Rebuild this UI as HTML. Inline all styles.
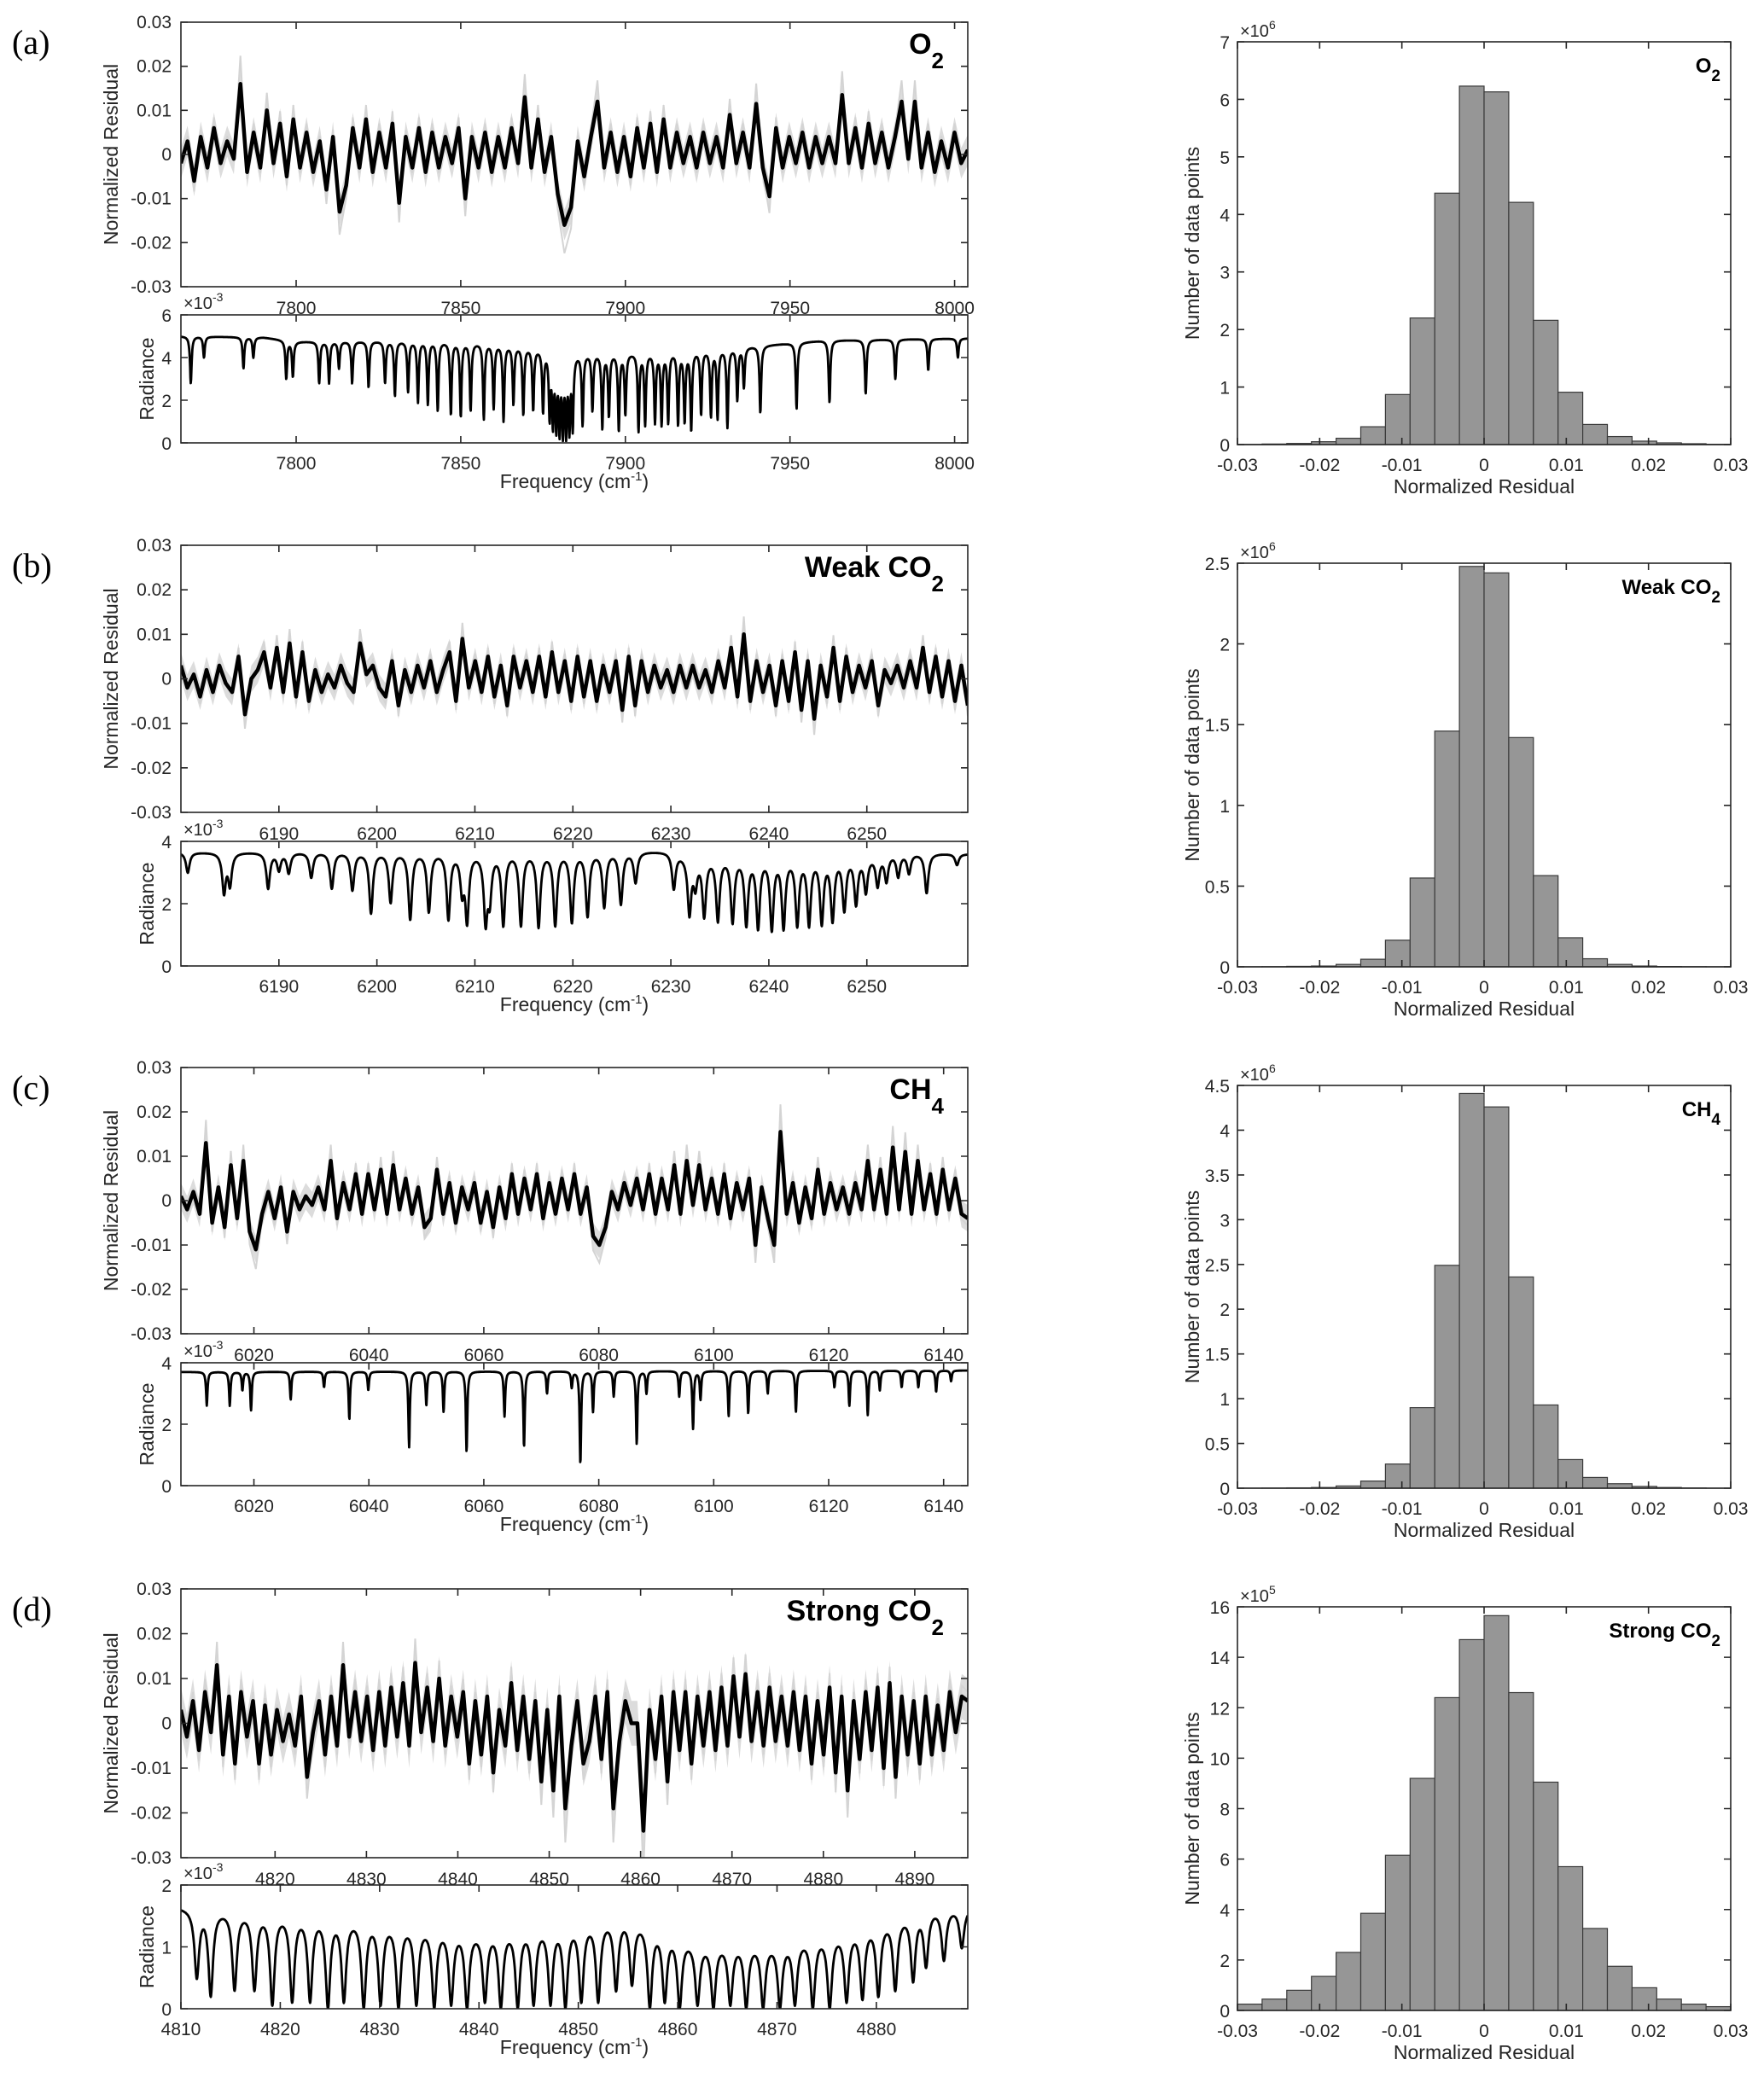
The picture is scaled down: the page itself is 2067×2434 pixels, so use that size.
<!DOCTYPE html>
<html><head><meta charset="utf-8">
<style>
html,body{margin:0;padding:0;background:#fff;}
svg{display:block;}
text{font-family:"Liberation Sans",Arial,sans-serif;fill:#262626;}
</style></head>
<body>
<svg id="fig" xmlns="http://www.w3.org/2000/svg" width="2067" height="2434" viewBox="0 0 2067 2434">
<defs id="defs"></defs>
</svg>
<script>
// ---------------- DATA ----------------
const panelLabels = ["(a)","(b)","(c)","(d)"];
const speciesMain = ["O","Weak CO","CH","Strong CO"];
const speciesSub = ["2","2","4","2"];
const residRange = [[7765,8004],[6180,6260.3],[6007.3,6144.2],[4809.7,4895.8]];
const radRange = [[7765,8004],[6180,6260.3],[6007.3,6144.2],[4810,4889.2]];
const topTicks = [[7800,7850,7900,7950,8000],[6190,6200,6210,6220,6230,6240,6250],[6020,6040,6060,6080,6100,6120,6140],[4820,4830,4840,4850,4860,4870,4880,4890]];
const botTicks = [[7800,7850,7900,7950,8000],[6190,6200,6210,6220,6230,6240,6250],[6020,6040,6060,6080,6100,6120,6140],[4810,4820,4830,4840,4850,4860,4870,4880]];
const residTicks = [0.03,0.02,0.01,0,-0.01,-0.02,-0.03];
const residTickLabels = ["0.03","0.02","0.01","0","-0.01","-0.02","-0.03"];
const radMax = [6,4,4,2];
const radTickSets = [[0,2,4,6],[0,2,4],[0,2,4],[0,1,2]];
const bandHalf = [3.5,3,3,5];

// residuals (x1e-3), evenly spaced over the residual range
const resid_a = [-2,3,-6,4,-3,6,-2,3,-1,16,-4,5,-3,10,-2,7,-5,8,-3,5,-4,3,-8,4,-13,-7,6,-3,8,-4,5,-3,7,-11,4,-3,6,-4,5,-3,4,-2,6,-10,4,-3,5,-4,4,-3,6,-2,13,-3,8,-4,4,-9,-16,-12,3,-5,4,12,-3,5,-4,4,-5,6,-3,7,-4,8,-3,5,-2,4,-3,5,-2,4,-3,9,-2,5,-3,11.5,-3,-9.5,6,-3,4,-2,5,-3,4,-2,4,-2,13.5,-2,6,-3,7,-2,5,-3,4,12,-1,12,-3,5,-4,3,-3,5,-2,1];
const resid_b = [3,-2,1,-4,2,-3,3,-1,-3,5,-8,0,2,6,-2,7,-3,8,-4,6,-5,2,-3,1,-2,3,-1,-3,8,1,3,-2,-4,4,-6,2,-3,3,-2,4,-3,2,6,-5,9,-2,4,-3,5,-4,3,-6,5,-2,4,-3,5,-4,6,-3,4,-5,5,-4,4,-5,3,-3,4,-7,5,-6,4,-3,3,-2,2,-3,3,-2,3,-2,2,-3,4,-2,7,-4,10,-5,4,-3,3,-6,4,-5,6,-7,4,-9,3,-4,7,-5,5,-3,3,-2,4,-6,2,-1,3,-2,4,-2,7,-3,5,-4,4,-5,3,-6];
const resid_c = [1,-2,2,-3,13,-5,3,-6,8,-4,9,-7,-11,-3,2,-4,3,-7,2,-2,1,-1,3,-2,9,-4,4,-2,6,-3,6,-2,7,-3,8,-2,5,-3,3,-6,-4,7,-3,4,-5,3,-2,4,-5,2,-6,3,-4,6,-3,5,-2,6,-4,4,-3,5,-2,6,-3,3,-8,-10,-6,2,-2,4,-1,5,-2,6,-3,5,-2,8,-3,9,-1,8,-2,5,-3,6,-4,4,-2,5,-10,3,-4,-10,15.5,-3,4,-5,3,-4,7,-3,4,-2,3,-3,4,-2,9,-2,7,-3,12,-2,11,-3,9,-2,6,-3,7,-2,5,-3,-4];
const resid_d = [3,-3,5,-6,7,-2,13,-7,6,-9,7,-3,5,-9,4,-7,3,-4,2,-5,6,-12,-2,5,-7,6,-5,13,-3,7,-4,6,-6,7,-5,8,-3,9,-5,13.5,-2,8,-4,10,-5,6,-3,7,-9,5,-7,6,-11,3,-5,9,-6,6,-8,5,-13,3,-15,6,-19,-5,5,-9,-4,6,-8,7,-19,-4,5,0,0,-24,3,-8,6,-13,7,-6,7,-9,6,-5,7,-6,8,-5,10.5,-3,11,-4,7,-5,8,-4,6,-5,7,-6,6,-9,5,-7,8,-11,6,-15,5,-8,7,-6,8,-10,9,-12,6,-7,5,-9,6,-7,4,-6,7,-2,6,5];
const residSeries = [resid_a,resid_b,resid_c,resid_d];

// radiance continuum (freq, x1e-3)
const cont_a_f = [7765,7790,7800,7840,7860,7872,7886,7900,7920,7940,7960,7980,8004];
const cont_a_v = [5.0,4.95,4.75,4.8,4.7,4.5,4.25,4.25,4.35,4.55,4.8,4.85,4.9];
const cont_b_f = [6180,6230,6232,6250,6253,6260.3];
const cont_b_v = [3.65,3.7,3.55,3.55,3.65,3.6];
const cont_c_f = [6007.3,6144.2];
const cont_c_v = [3.7,3.75];
const cont_d_f = [4810,4825,4840,4850,4855,4862,4870,4877,4885,4889.2];
const cont_d_v = [1.65,1.55,1.3,1.45,1.55,1.1,1.1,1.3,1.65,1.65];
const contF = [cont_a_f,cont_b_f,cont_c_f,cont_d_f];
const contV = [cont_a_v,cont_b_v,cont_c_v,cont_d_v];

// absorption line centers and minimum radiance (x1e-3)
const lines_a_c = [7768,7772,7784,7787,7797,7799,7807,7810,7813,7817,7822,7827,7830,7834,7837,7840,7843,7847,7850,7853,7857,7860,7863,7866,7869,7872,7875,7877,7878,7879,7880,7881,7882,7883,7884,7887,7890,7893,7895,7898,7900,7904,7906,7909,7911,7913,7916,7918,7920,7923,7926,7928,7931,7934,7936,7941,7952,7962,7973,7982,7992,8001];
const lines_a_m = [2.8,4,3.5,4,3,3.1,2.8,2.8,3.5,2.8,2.6,2.8,2.2,2.4,1.9,1.8,1.5,1.3,1.2,1.5,1.1,1.6,1.0,1.8,1.3,1.5,1.4,1.0,0.6,0.4,0.2,0.1,0.1,0.3,0.5,0.8,1.5,0.6,1.2,0.5,1.3,0.5,0.8,0.9,0.8,0.9,0.8,0.9,0.5,1.3,1.2,1.1,0.7,2.0,2.6,1.4,1.6,1.9,2.3,3.0,3.4,4.0];
const lines_b_c = [6180.7,6184.4,6185,6188.9,6190,6191,6193.3,6195.4,6197.5,6199.4,6201.4,6203.4,6205.3,6207.3,6208.7,6209.2,6211.1,6211.5,6212.9,6214.7,6216.5,6218.2,6219.9,6221.5,6223.2,6224.9,6226.4,6230.3,6231.9,6232.5,6233.4,6234.8,6236.3,6237.7,6238.9,6240.3,6241.5,6242.9,6244.1,6245.4,6246.5,6247.7,6248.9,6249.9,6251.1,6252,6253.2,6254.3,6256.1,6259.2];
const lines_b_m = [3.0,2.35,2.6,2.5,3.1,3.0,2.85,2.5,2.45,1.7,2.05,1.5,1.75,1.5,2.4,1.4,1.35,2.1,1.3,1.3,1.25,1.3,1.4,1.6,1.9,2.0,2.7,2.5,1.65,2.6,1.6,1.45,1.4,1.3,1.2,1.15,1.2,1.3,1.3,1.35,1.45,1.8,2.0,2.4,2.6,2.75,2.9,3.0,2.35,3.25];
const lines_c_c = [6011.8,6015.8,6018,6019.5,6026.4,6032.2,6036.6,6039.9,6047,6050,6053,6057,6063.6,6067,6071,6075.3,6076.8,6079,6082.6,6086.6,6088.3,6094,6096.4,6097.7,6102.6,6106,6109.4,6114.3,6121,6123.6,6126.8,6128.9,6132.7,6135.6,6138.7,6141.3];
const lines_c_m = [2.6,2.6,3.1,2.45,2.8,3.2,2.15,3.1,1.25,2.6,2.4,1.1,2.25,1.25,3.0,3.2,0.7,2.4,2.9,1.35,3.0,2.9,1.85,2.8,2.25,2.35,3.0,2.4,3.2,2.6,2.3,3.1,3.2,3.2,3.05,3.4];
const lines_d_c = [4811.6,4813,4815.4,4817.4,4819.2,4821.2,4823,4824.8,4826.4,4828.4,4830.1,4831.9,4833.7,4835.5,4837.2,4838.8,4840.6,4842.2,4843.9,4845.5,4847.2,4848.7,4850.3,4852,4853.8,4855.4,4857.2,4858.7,4860.2,4862,4863.6,4865.3,4866.9,4868.6,4870.3,4871.8,4873.6,4875.3,4877,4878.6,4880.2,4881.9,4883.7,4885,4886.8,4888.6];
const lines_d_m = [0.5,0.2,0.3,0.3,0.05,0.1,0.1,0,0.1,0,0.05,0,0.05,0,0.05,0,0.1,0,0,0.05,0.05,0,0.1,0.1,0.3,0.4,0,0.1,0,0.05,0,0.05,0,0,0,0.05,0,0,0.1,0.15,0.2,0.3,0.45,0.7,0.8,1.0];
const lineC = [lines_a_c,lines_b_c,lines_c_c,lines_d_c];
const lineM = [lines_a_m,lines_b_m,lines_c_m,lines_d_m];
const lineHalfWidth = [0.3,0.22,0.15,0.28];

// histograms: 20 bins from -0.03 to 0.03
const binEdgesStart = -0.03, binWidth = 0.003;
const hist_a = [0.003,0.01,0.02,0.05,0.11,0.31,0.87,2.2,4.37,6.23,6.13,4.21,2.16,0.91,0.35,0.14,0.06,0.03,0.015,0.005];
const hist_b = [0.0005,0.001,0.003,0.005,0.015,0.047,0.165,0.55,1.46,2.48,2.44,1.42,0.565,0.18,0.05,0.015,0.005,0.002,0.001,0.0005];
const hist_c = [0.001,0.002,0.004,0.008,0.025,0.08,0.27,0.9,2.49,4.41,4.26,2.36,0.93,0.32,0.12,0.05,0.02,0.008,0.003,0.001];
const hist_d = [0.25,0.45,0.8,1.35,2.3,3.85,6.15,9.2,12.4,14.7,15.65,12.6,9.05,5.7,3.25,1.75,0.9,0.45,0.25,0.15];
const histSeries = [hist_a,hist_b,hist_c,hist_d];
const histMax = [7,2.5,4.5,16];
const histTicks = [[0,1,2,3,4,5,6,7],[0,0.5,1,1.5,2,2.5],[0,0.5,1,1.5,2,2.5,3,3.5,4,4.5],[0,2,4,6,8,10,12,14,16]];
const histExp = ["6","6","6","5"];
const histXTicks = [-0.03,-0.02,-0.01,0,0.01,0.02,0.03];
const histXTickLabels = ["-0.03","-0.02","-0.01","0","0.01","0.02","0.03"];

// ---------------- LAYOUT ----------------
const rows = [
 {top:[26,336], bot:[369,519], hist:[49,521]},
 {top:[639,952], bot:[986,1132], hist:[660,1133]},
 {top:[1251,1563], bot:[1597,1741], hist:[1272,1744]},
 {top:[1862,2177], bot:[2209,2354], hist:[1883,2356]}];
const XL=212, XR=1134, HL=1450, HR=2028;
const NS='http://www.w3.org/2000/svg';
const svg=document.getElementById('fig');
const defs=document.getElementById('defs');

function el(tag, attrs, parent){
  const e=document.createElementNS(NS,tag);
  for(const k in attrs) e.setAttribute(k,attrs[k]);
  (parent||svg).appendChild(e);
  return e;
}
function txt(parent,x,y,s,size,anchor,extra){
  const t=el('text',{x:x,y:y,'font-size':size,'text-anchor':anchor||'start'},parent);
  if(extra) for(const k in extra) t.setAttribute(k,extra[k]);
  t.textContent=s;
  return t;
}
function lin(d0,d1,r0,r1){return v=>r0+(v-d0)*(r1-r0)/(d1-d0);}
function interp(fs,vs,f){
  if(f<=fs[0]) return vs[0];
  for(let i=1;i<fs.length;i++){ if(f<=fs[i]){const t=(f-fs[i-1])/(fs[i]-fs[i-1]);return vs[i-1]+t*(vs[i]-vs[i-1]);} }
  return vs[vs.length-1];
}
function frame(g,x0,y0,x1,y1){
  const r=el('rect',{x:x0,y:y0,width:x1-x0,height:y1-y0,fill:'none',stroke:'#262626','stroke-width':1.6},g);
  
  
}
function tickMarks(g,xs,ys,x0,y0,x1,y1){
  let d='';
  xs.forEach(x=>{d+=`M${x},${y1}v-8M${x},${y0}v8`;});
  ys.forEach(y=>{d+=`M${x0},${y}h8M${x1},${y}h-8`;});
  const p=el('path',{d:d,stroke:'#262626','stroke-width':1.6,fill:'none'},g);
  
  
}

rows.forEach((R,pi)=>{
  const g=el('g',{});
  
  

  const pl=txt(g,14,R.top[0]+37,panelLabels[pi],40,'start',{style:'font-family:"Liberation Serif",serif;fill:#000'});
  
  

  // ---------- residual plot ----------
  const [ty0,ty1]=R.top;
  const fx=lin(residRange[pi][0],residRange[pi][1],XL,XR);
  const fy=lin(-0.03,0.03,ty1,ty0);
  const cid='clipT'+pi;
  const cp=el('clipPath',{id:cid},defs); el('rect',{x:XL,y:ty0,width:XR-XL,height:ty1-ty0},cp);
  const data=residSeries[pi];
  const n=data.length;
  const f0=residRange[pi][0], f1=residRange[pi][1];
  let ptsG='',ptsB='',up=[],dn=[];
  data.forEach((v,i)=>{
    const f=f0+i*(f1-f0)/(n-1);
    const x=fx(f).toFixed(1);
    ptsG+=x+','+fy(v*1.4e-3).toFixed(1)+' ';
    ptsB+=x+','+fy(v*1e-3).toFixed(1)+' ';
    up.push(x+','+fy((v+bandHalf[pi])*1e-3).toFixed(1));
    dn.push(x+','+fy((v-bandHalf[pi])*1e-3).toFixed(1));
  });
  const band=el('polygon',{points:up.join(' ')+' '+dn.reverse().join(' '),fill:'#dcdcdc',stroke:'none','clip-path':`url(#${cid})`},g);
  
  
  const env=el('polyline',{points:ptsG,fill:'none',stroke:'#d4d4d4','stroke-width':2,'clip-path':`url(#${cid})`},g);
  
  
  const rl=el('polyline',{points:ptsB,fill:'none',stroke:'#000','stroke-width':4.5,'stroke-linejoin':'round','clip-path':`url(#${cid})`},g);
  
  
  frame(g,XL,ty0,XR,ty1);
  tickMarks(g,topTicks[pi].map(fx),residTicks.map(fy),XL,ty0,XR,ty1);
  residTicks.forEach((t,i)=>{
    const lt=txt(g,XL-11,fy(t)+7,residTickLabels[i],21,'end');
    
    
  });
  topTicks[pi].forEach(t=>{
    const lt=txt(g,fx(t),ty1+32,String(t),21,'middle');
    
    
  });
  const yl=txt(g,0,0,'Normalized Residual',23,'middle',{transform:`translate(138,${(ty0+ty1)/2}) rotate(-90)`});
  
  
  const sp=txt(g,0,0,'',34,'end',{'font-weight':'bold',style:'fill:#000',transform:`translate(1106,${ty0+37})`});
  
  
  const s1=el('tspan',{},sp); s1.textContent=speciesMain[pi];
  const s2=el('tspan',{'font-size':26,dy:17},sp); s2.textContent=speciesSub[pi];

  // ---------- radiance plot ----------
  const [by0,by1]=R.bot;
  const gx=lin(radRange[pi][0],radRange[pi][1],XL,XR);
  const gy=lin(0,radMax[pi],by1,by0);
  const cid2='clipB'+pi;
  const cp2=el('clipPath',{id:cid2},defs); el('rect',{x:XL,y:by0,width:XR-XL,height:by1-by0},cp2);
  const N=2400; let rp='';
  const r0=radRange[pi][0], r1=radRange[pi][1];
  for(let i=0;i<=N;i++){
    const f=r0+(r1-r0)*i/N;
    const c=interp(contF[pi],contV[pi],f);
    let tr=1;
    lineC[pi].forEach((lc,k)=>{
      const lcont=interp(contF[pi],contV[pi],lc);
      const d=Math.max(0,Math.min(1,1-lineM[pi][k]/lcont));
      const u=(f-lc)/lineHalfWidth[pi];
      tr*=1-d/(1+u*u);
    });
    rp+=gx(f).toFixed(1)+','+gy(c*tr).toFixed(1)+' ';
  }
  const radl=el('polyline',{points:rp,fill:'none',stroke:'#000','stroke-width':2.8,'stroke-linejoin':'round','clip-path':`url(#${cid2})`},g);
  
  
  frame(g,XL,by0,XR,by1);
  tickMarks(g,botTicks[pi].map(gx),radTickSets[pi].map(gy),XL,by0,XR,by1);
  radTickSets[pi].forEach(t=>{
    const lt=txt(g,XL-11,gy(t)+8,String(t),21,'end');
    
    
  });
  botTicks[pi].forEach(t=>{
    const lt=txt(g,gx(t),by1+31,String(t),21,'middle');
    
    
  });
  const mult=txt(g,XL+3,by0-7,'',20,'start');
  
  
  const m1=el('tspan',{},mult); m1.textContent='\u00d710';
  const m2=el('tspan',{'font-size':14,dy:-9},mult); m2.textContent='-3';
  const rl2=txt(g,0,0,'Radiance',23,'middle',{transform:`translate(180,${(by0+by1)/2}) rotate(-90)`});
  
  
  const xt=txt(g,(XL+XR)/2,by1+53,'',23,'middle');
  
  
  const x1=el('tspan',{},xt); x1.textContent='Frequency (cm';
  const x2=el('tspan',{'font-size':15,dy:-9},xt); x2.textContent='-1';
  const x3=el('tspan',{dy:9},xt); x3.textContent=')';

  // ---------- histogram ----------
  const [hy0,hy1]=R.hist;
  const hx=lin(-0.03,0.03,HL,HR);
  const hy=lin(0,histMax[pi],hy1,hy0);
  histSeries[pi].forEach((v,i)=>{
    const a=binEdgesStart+i*binWidth;
    const b=el('rect',{x:hx(a),y:hy(v),width:hx(a+binWidth)-hx(a),height:hy1-hy(v),fill:'#969696',stroke:'#3a3a3a','stroke-width':1.2},g);
    
    
  });
  frame(g,HL,hy0,HR,hy1);
  tickMarks(g,histXTicks.map(hx),histTicks[pi].map(hy),HL,hy0,HR,hy1);
  histTicks[pi].forEach(t=>{
    const lt=txt(g,HL-9,hy(t)+8,String(t),21,'end');
    
    
  });
  histXTicks.forEach((t,i)=>{
    const lt=txt(g,hx(t),hy1+31,histXTickLabels[i],21,'middle');
    
    
  });
  const hm=txt(g,HL+3,hy0-6,'',20,'start');
  
  
  const h1=el('tspan',{},hm); h1.textContent='\u00d710';
  const h2=el('tspan',{'font-size':14,dy:-9},hm); h2.textContent=histExp[pi];
  const hxl=txt(g,(HL+HR)/2,hy1+57,'Normalized Residual',23,'middle');
  
  
  const hyl=txt(g,0,0,'Number of data points',23,'middle',{transform:`translate(1405,${(hy0+hy1)/2}) rotate(-90)`});
  
  
  const hs=txt(g,0,0,'',24,'end',{'font-weight':'bold',style:'fill:#000',transform:`translate(2016,${hy0+36})`});
  
  
  const hs1=el('tspan',{},hs); hs1.textContent=speciesMain[pi];
  const hs2=el('tspan',{'font-size':19,dy:10},hs); hs2.textContent=speciesSub[pi];
});
</script>
</body></html>
